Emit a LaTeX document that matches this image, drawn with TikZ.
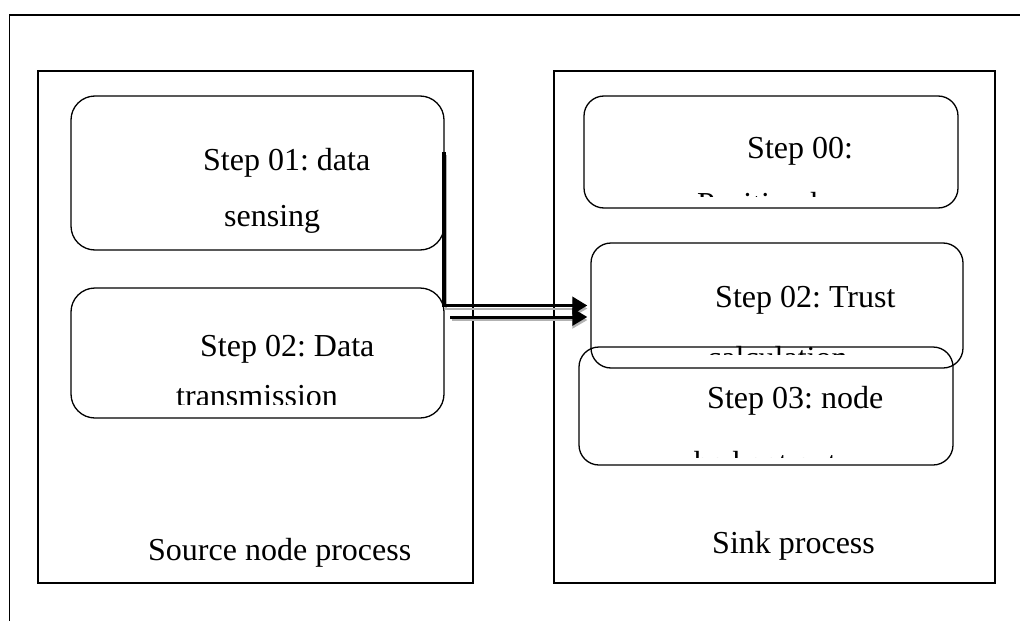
\documentclass[tikz,border=0pt]{standalone}
\usepackage{fontspec}
\setmainfont{Liberation Serif}
\frenchspacing
\usetikzlibrary{arrows.meta}
\begin{document}
\begin{tikzpicture}[x=1pt,y=-1pt,
  frame/.style={draw, line width=1.6pt},
  panel/.style={draw, line width=1.6pt, inner sep=0pt},
  rbox/.style={draw, line width=1.3pt, rounded corners=24pt, inner sep=0pt},
  lbl/.style={anchor=base west, inner sep=0pt, font=\fontsize{32}{38}\selectfont},
  flow/.style={line width=3pt, -{Triangle[length=15pt,width=17pt]}, shorten >=3pt},
  flowshade/.style={line width=2pt, draw=black!30, -{Triangle[length=15pt,width=17pt]}, shorten >=3pt},
]
\useasboundingbox (0,0) rectangle (1020,621);

% outer frame (only its top and left edges fall inside the page)
\draw[frame] (9.5,621) -- (9.5,15) -- (1020,15);

% the two process panels
\node[panel, minimum width=435pt, minimum height=512pt] (src) at (255.5,327) {};
\node[panel, minimum width=441pt, minimum height=512pt] (snk) at (774.5,327) {};

% source node steps
\node[rbox, minimum width=373pt, minimum height=154pt] (s1) at (257.5,173) {};
\node[rbox, minimum width=373pt, minimum height=130pt] (s2) at (257.5,353) {};

% sink steps
\node[rbox, rounded corners=20pt, minimum width=374pt, minimum height=112pt] (d0) at (771,152) {};
\node[rbox, rounded corners=20pt, minimum width=372pt, minimum height=125pt] (t2) at (777,305.5) {};
\node[rbox, rounded corners=20pt, minimum width=374pt, minimum height=118pt] (n3) at (766,406) {};

% labels
\node[lbl] (l1a) at (203,170) {Step 01: data};
\node[lbl] (l1b) at (224,226) {sensing};
\node[lbl] (l2a) at (200,356) {Step 02: Data};
\begin{scope}
  \clip (72,300) rectangle (443,404);
  \node[lbl] (l2b) at (176,406) {transmission};
\end{scope}
\node[lbl] (lsrc) at (148,560) {Source node process};

\node[lbl] (l0a) at (747,158) {Step 00:};
\begin{scope}
  \clip (585,100) rectangle (957,196);
  \node[lbl] (l0b) at (697,214) {Position known};
\end{scope}
\node[lbl] (l3a) at (715,307) {Step 02: Trust};
\begin{scope}
  \clip (592,250) rectangle (962,354.5);
  \node[lbl] (l3b) at (707,368) {calculation};
\end{scope}
\node[lbl] (l4a) at (707,408) {Step 03: node};
\begin{scope}
  \clip (580,420) rectangle (952,457);
  \node[lbl] (l4b) at (694,473) {be kept out};
\end{scope}
\node[lbl] (lsnk) at (712,553) {Sink process};

% data flow from the source steps to the trust calculation
\coordinate (a1) at (444,152);
\coordinate (a2) at (450,317);
\draw[flowshade] ([shift={(1.5,3)}]a2) -- ([shift={(0,3)}]t2.west |- a2);
\draw[flowshade] ([shift={(1.5,3)}]a1) |- ([shift={(0,3)}]t2.west);
\draw[flow, line cap=butt, line width=3.5pt] (a1) |- (t2.west);
\draw[flow] (a2) -- (t2.west |- a2);
\end{tikzpicture}
\end{document}
